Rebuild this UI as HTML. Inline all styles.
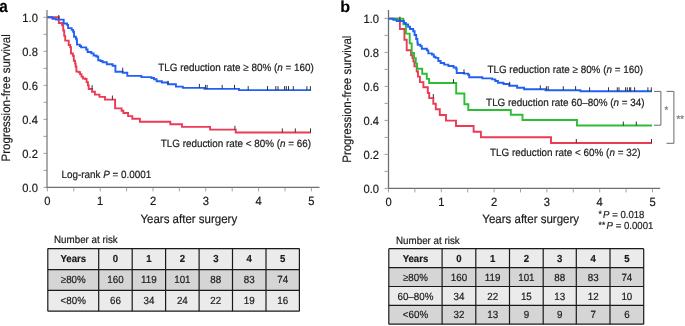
<!DOCTYPE html>
<html><head><meta charset="utf-8"><style>html,body{margin:0;padding:0;background:#fff;}
svg{display:block;will-change:transform;}
text{font-family:"Liberation Sans", sans-serif;fill:#1a1a1a;text-rendering:geometricPrecision;stroke:#1a1a1a;stroke-width:0.18px;}
.pl{font-size:17px;font-weight:bold;fill:#000;}
.tk{font-size:11.2px;}
.al{font-size:11.5px;}
.lb{font-size:9.9px;}
.sm{font-size:9.6px;}
.st{font-size:9.5px;fill:#808080;stroke:#808080;stroke-width:0.3px;}
.tb{font-size:9.8px;}
.tbb{font-size:9.6px;font-weight:bold;}
</style></head><body>
<svg width="685" height="326" viewBox="0 0 685 326">
<rect width="685" height="326" fill="#fff"/>
<text transform="translate(-0.8,12) scale(0.9,1)" class="pl">a</text>
<text transform="translate(340.2,12) scale(0.95,0.93)" class="pl">b</text>
<line x1="47.0" y1="10" x2="47.0" y2="187.4" stroke="#a2a2a2" stroke-width="1.8"/>
<line x1="46.1" y1="187.4" x2="319.5" y2="187.4" stroke="#6f6f6f" stroke-width="1.3"/>
<line x1="43.4" y1="187.40" x2="47.4" y2="187.40" stroke="#8a8a8a" stroke-width="0.8"/>
<line x1="43.4" y1="170.39" x2="47.4" y2="170.39" stroke="#8a8a8a" stroke-width="0.8"/>
<line x1="43.4" y1="153.38" x2="47.4" y2="153.38" stroke="#8a8a8a" stroke-width="0.8"/>
<line x1="43.4" y1="136.37" x2="47.4" y2="136.37" stroke="#8a8a8a" stroke-width="0.8"/>
<line x1="43.4" y1="119.36" x2="47.4" y2="119.36" stroke="#8a8a8a" stroke-width="0.8"/>
<line x1="43.4" y1="102.35" x2="47.4" y2="102.35" stroke="#8a8a8a" stroke-width="0.8"/>
<line x1="43.4" y1="85.34" x2="47.4" y2="85.34" stroke="#8a8a8a" stroke-width="0.8"/>
<line x1="43.4" y1="68.33" x2="47.4" y2="68.33" stroke="#8a8a8a" stroke-width="0.8"/>
<line x1="43.4" y1="51.32" x2="47.4" y2="51.32" stroke="#8a8a8a" stroke-width="0.8"/>
<line x1="43.4" y1="34.31" x2="47.4" y2="34.31" stroke="#8a8a8a" stroke-width="0.8"/>
<line x1="43.4" y1="17.30" x2="47.4" y2="17.30" stroke="#8a8a8a" stroke-width="0.8"/>
<text transform="translate(37.90,191.60) scale(1.0,1.06)" text-anchor="end" class="tk">0.0</text>
<text transform="translate(37.90,157.58) scale(1.0,1.06)" text-anchor="end" class="tk">0.2</text>
<text transform="translate(37.90,123.56) scale(1.0,1.06)" text-anchor="end" class="tk">0.4</text>
<text transform="translate(37.90,89.54) scale(1.0,1.06)" text-anchor="end" class="tk">0.6</text>
<text transform="translate(37.90,55.52) scale(1.0,1.06)" text-anchor="end" class="tk">0.8</text>
<text transform="translate(37.90,21.50) scale(1.0,1.06)" text-anchor="end" class="tk">1.0</text>
<line x1="47.40" y1="187.4" x2="47.40" y2="191.4" stroke="#8a8a8a" stroke-width="0.8"/>
<line x1="73.80" y1="187.4" x2="73.80" y2="191.4" stroke="#8a8a8a" stroke-width="0.8"/>
<line x1="100.20" y1="187.4" x2="100.20" y2="191.4" stroke="#8a8a8a" stroke-width="0.8"/>
<line x1="126.60" y1="187.4" x2="126.60" y2="191.4" stroke="#8a8a8a" stroke-width="0.8"/>
<line x1="153.00" y1="187.4" x2="153.00" y2="191.4" stroke="#8a8a8a" stroke-width="0.8"/>
<line x1="179.40" y1="187.4" x2="179.40" y2="191.4" stroke="#8a8a8a" stroke-width="0.8"/>
<line x1="205.80" y1="187.4" x2="205.80" y2="191.4" stroke="#8a8a8a" stroke-width="0.8"/>
<line x1="232.20" y1="187.4" x2="232.20" y2="191.4" stroke="#8a8a8a" stroke-width="0.8"/>
<line x1="258.60" y1="187.4" x2="258.60" y2="191.4" stroke="#8a8a8a" stroke-width="0.8"/>
<line x1="285.00" y1="187.4" x2="285.00" y2="191.4" stroke="#8a8a8a" stroke-width="0.8"/>
<line x1="311.40" y1="187.4" x2="311.40" y2="191.4" stroke="#8a8a8a" stroke-width="0.8"/>
<text transform="translate(47.40,204.90) scale(1.0,1.06)" text-anchor="middle" class="tk">0</text>
<text transform="translate(100.20,204.90) scale(1.0,1.06)" text-anchor="middle" class="tk">1</text>
<text transform="translate(153.00,204.90) scale(1.0,1.06)" text-anchor="middle" class="tk">2</text>
<text transform="translate(205.80,204.90) scale(1.0,1.06)" text-anchor="middle" class="tk">3</text>
<text transform="translate(258.60,204.90) scale(1.0,1.06)" text-anchor="middle" class="tk">4</text>
<text transform="translate(311.40,204.90) scale(1.0,1.06)" text-anchor="middle" class="tk">5</text>
<path d="M388.5,10 V188.4 H660.2" fill="none" stroke="#6f6f6f" stroke-width="1.3"/>
<line x1="384.5" y1="188.40" x2="388.5" y2="188.40" stroke="#8a8a8a" stroke-width="0.8"/>
<line x1="384.5" y1="171.40" x2="388.5" y2="171.40" stroke="#8a8a8a" stroke-width="0.8"/>
<line x1="384.5" y1="154.40" x2="388.5" y2="154.40" stroke="#8a8a8a" stroke-width="0.8"/>
<line x1="384.5" y1="137.40" x2="388.5" y2="137.40" stroke="#8a8a8a" stroke-width="0.8"/>
<line x1="384.5" y1="120.40" x2="388.5" y2="120.40" stroke="#8a8a8a" stroke-width="0.8"/>
<line x1="384.5" y1="103.40" x2="388.5" y2="103.40" stroke="#8a8a8a" stroke-width="0.8"/>
<line x1="384.5" y1="86.40" x2="388.5" y2="86.40" stroke="#8a8a8a" stroke-width="0.8"/>
<line x1="384.5" y1="69.40" x2="388.5" y2="69.40" stroke="#8a8a8a" stroke-width="0.8"/>
<line x1="384.5" y1="52.40" x2="388.5" y2="52.40" stroke="#8a8a8a" stroke-width="0.8"/>
<line x1="384.5" y1="35.40" x2="388.5" y2="35.40" stroke="#8a8a8a" stroke-width="0.8"/>
<line x1="384.5" y1="18.40" x2="388.5" y2="18.40" stroke="#8a8a8a" stroke-width="0.8"/>
<text transform="translate(379.00,192.60) scale(1.0,1.06)" text-anchor="end" class="tk">0.0</text>
<text transform="translate(379.00,158.60) scale(1.0,1.06)" text-anchor="end" class="tk">0.2</text>
<text transform="translate(379.00,124.60) scale(1.0,1.06)" text-anchor="end" class="tk">0.4</text>
<text transform="translate(379.00,90.60) scale(1.0,1.06)" text-anchor="end" class="tk">0.6</text>
<text transform="translate(379.00,56.60) scale(1.0,1.06)" text-anchor="end" class="tk">0.8</text>
<text transform="translate(379.00,22.60) scale(1.0,1.06)" text-anchor="end" class="tk">1.0</text>
<line x1="388.50" y1="188.4" x2="388.50" y2="192.4" stroke="#8a8a8a" stroke-width="0.8"/>
<line x1="414.90" y1="188.4" x2="414.90" y2="192.4" stroke="#8a8a8a" stroke-width="0.8"/>
<line x1="441.30" y1="188.4" x2="441.30" y2="192.4" stroke="#8a8a8a" stroke-width="0.8"/>
<line x1="467.70" y1="188.4" x2="467.70" y2="192.4" stroke="#8a8a8a" stroke-width="0.8"/>
<line x1="494.10" y1="188.4" x2="494.10" y2="192.4" stroke="#8a8a8a" stroke-width="0.8"/>
<line x1="520.50" y1="188.4" x2="520.50" y2="192.4" stroke="#8a8a8a" stroke-width="0.8"/>
<line x1="546.90" y1="188.4" x2="546.90" y2="192.4" stroke="#8a8a8a" stroke-width="0.8"/>
<line x1="573.30" y1="188.4" x2="573.30" y2="192.4" stroke="#8a8a8a" stroke-width="0.8"/>
<line x1="599.70" y1="188.4" x2="599.70" y2="192.4" stroke="#8a8a8a" stroke-width="0.8"/>
<line x1="626.10" y1="188.4" x2="626.10" y2="192.4" stroke="#8a8a8a" stroke-width="0.8"/>
<line x1="652.50" y1="188.4" x2="652.50" y2="192.4" stroke="#8a8a8a" stroke-width="0.8"/>
<text transform="translate(388.50,205.90) scale(1.0,1.06)" text-anchor="middle" class="tk">0</text>
<text transform="translate(441.30,205.90) scale(1.0,1.06)" text-anchor="middle" class="tk">1</text>
<text transform="translate(494.10,205.90) scale(1.0,1.06)" text-anchor="middle" class="tk">2</text>
<text transform="translate(546.90,205.90) scale(1.0,1.06)" text-anchor="middle" class="tk">3</text>
<text transform="translate(599.70,205.90) scale(1.0,1.06)" text-anchor="middle" class="tk">4</text>
<text transform="translate(652.50,205.90) scale(1.0,1.06)" text-anchor="middle" class="tk">5</text>
<text transform="translate(9.50,97.80) rotate(-90) scale(1.0,1.06)" text-anchor="middle" class="al">Progression-free survival</text>
<text transform="translate(350.50,99.20) rotate(-90) scale(1.0,1.06)" text-anchor="middle" class="al">Progression-free survival</text>
<text transform="translate(188.80,222.80) scale(1.0,1.06)" text-anchor="middle" class="al">Years after surgery</text>
<text transform="translate(530.70,222.80) scale(1.0,1.06)" text-anchor="middle" class="al">Years after surgery</text>
<path d="M47.4,17.3 H58.8 V23 H62.1 V25.3 H63.2 V30.5 H64.2 V35.9 H65.2 V40.6 H68.7 V45 H70.2 V47.2 H71 V53.5 H72.9 V55.8 H73.8 V60.8 H75.1 V63.5 H75.6 V66.5 H76.4 V71.6 H78.7 V72.2 H80.1 V74.3 H81.5 V76.6 H82.9 V78.5 H85.2 V79 H86.6 V82.1 H87.9 V85.3 H88.7 V89 H92.1 V91.8 H94.9 V94.6 H99.5 V96.9 H105 V99.6 H115.1 V108.4 H121.6 V110.7 H123.4 V113 H128.1 V116.1 H132.3 V118.8 H139.9 V121.7 H170.3 V124.3 H182 V126.9 H210.1 V129.6 H235.7 V132.5 H311" fill="none" stroke="#ec3a55" stroke-width="1.9"/>
<path d="M47.4,17.3 H52.4 V18.8 H56 V19.6 H63.7 V23.5 H67.1 V24.9 H68.1 V28.1 H71.7 V29.9 H73.1 V31.8 H74 V36.8 H75.9 V38.7 H76.8 V40.8 H77 V44.6 H79.8 V46 H81.1 V47.4 H86.2 V49.5 H87.6 V52 H91.3 V53.4 H93.6 V55.5 H96.3 V56.5 H98.2 V60.2 H100.5 V61 H102.6 V62.3 H106.8 V64.3 H112.6 V65.8 H115.4 V71.8 H122.7 V72.7 H127.3 V75.9 H141.4 V77.1 H151.4 V78 H154 V79.2 H156.6 V81.2 H161.9 V82.5 H168 V84.3 H175.9 V86.6 H182.9 V87.9 H204.4 V88.9 H239 V90.1 H311" fill="none" stroke="#2260f4" stroke-width="1.9"/>
<path d="M388.3,18.6 H399.9 V29 H404.4 V39.8 H406.7 V50.3 H411 V55.3 H412.5 V58 H413.4 V61.4 H414.4 V66.4 H416.7 V71.5 H418 V76.6 H419.9 V82.1 H423.4 V87.3 H427.8 V93 H429.2 V98.1 H433.3 V103.7 H435.8 V109.2 H439.8 V115 H446 V120.6 H456 V126 H473.6 V131.7 H480.9 V137.3 H551 V143 H652" fill="none" stroke="#ec3a55" stroke-width="1.9"/>
<path d="M388.3,18.6 H403.4 V24.4 H405.9 V33.6 H409.7 V43.4 H411.7 V53 H414 V58.1 H415.8 V63.6 H417.1 V68.7 H422.2 V73.8 H426.8 V78.9 H429.1 V83 H456.2 V93.5 H464.4 V104.3 H468.3 V110 H510.8 V114.8 H522.5 V120 H577 V125.5 H652" fill="none" stroke="#2bbd35" stroke-width="1.9"/>
<path d="M388.3,18.6 H393.4 V19.8 H396.7 V21 H404 V23 H405.9 V24.4 H408.1 V26.7 H410 V29 H413.2 V31.3 H414.6 V35 H416.2 V39 H417.4 V42.5 H417.7 V44.7 H420.4 V46.1 H421.8 V48.8 H426.9 V50.4 H428.3 V53.4 H431.9 V54.5 H433.8 V56.8 H435.6 V57.9 H438.3 V61 H440.6 V63 H444.2 V64.6 H448.4 V66 H453.6 V67.5 H456.2 V69 H456.7 V73 H464 V73.6 H468.2 V74.7 H469.2 V77.3 H482.3 V78.4 H492.2 V79.4 H495.3 V81 H497.9 V82.8 H503.5 V84 H509.2 V85.7 H517.1 V87.8 H524.1 V89.2 H545.5 V90.2 H580.4 V91.3 H652" fill="none" stroke="#2260f4" stroke-width="1.9"/>
<line x1="58.8" y1="15" x2="58.8" y2="19" stroke="#333333" stroke-width="1"/>
<line x1="122.7" y1="67.7" x2="122.7" y2="71.8" stroke="#333333" stroke-width="1"/>
<line x1="168" y1="80.8" x2="168" y2="84.3" stroke="#333333" stroke-width="1"/>
<line x1="199.4" y1="83.9" x2="199.4" y2="87.9" stroke="#333333" stroke-width="1"/>
<line x1="205.6" y1="84.9" x2="205.6" y2="88.9" stroke="#333333" stroke-width="1"/><line x1="207.1" y1="84.9" x2="207.1" y2="88.9" stroke="#333333" stroke-width="1"/>
<line x1="222.2" y1="84.9" x2="222.2" y2="88.9" stroke="#333333" stroke-width="1"/><line x1="234.5" y1="84.9" x2="234.5" y2="88.9" stroke="#333333" stroke-width="1"/>
<line x1="248.2" y1="86.1" x2="248.2" y2="90.1" stroke="#333333" stroke-width="1"/><line x1="267.5" y1="86.1" x2="267.5" y2="90.1" stroke="#333333" stroke-width="1"/><line x1="275.8" y1="86.1" x2="275.8" y2="90.1" stroke="#333333" stroke-width="1"/><line x1="278" y1="86.1" x2="278" y2="90.1" stroke="#333333" stroke-width="1"/><line x1="284.6" y1="86.1" x2="284.6" y2="90.1" stroke="#333333" stroke-width="1"/><line x1="286.3" y1="86.1" x2="286.3" y2="90.1" stroke="#333333" stroke-width="1"/><line x1="288.5" y1="86.1" x2="288.5" y2="90.1" stroke="#333333" stroke-width="1"/><line x1="293.3" y1="86.1" x2="293.3" y2="90.1" stroke="#333333" stroke-width="1"/><line x1="306.9" y1="86.1" x2="306.9" y2="90.1" stroke="#333333" stroke-width="1"/><line x1="310.4" y1="86.1" x2="310.4" y2="90.1" stroke="#333333" stroke-width="1"/>
<line x1="92.1" y1="85.2" x2="92.1" y2="89.2" stroke="#333333" stroke-width="1"/>
<line x1="112.4" y1="95.5" x2="112.4" y2="99.6" stroke="#333333" stroke-width="1"/>
<line x1="234.9" y1="125.8" x2="234.9" y2="129.6" stroke="#333333" stroke-width="1"/>
<line x1="282.3" y1="128.4" x2="282.3" y2="132.4" stroke="#333333" stroke-width="1"/><line x1="295.3" y1="128.4" x2="295.3" y2="132.4" stroke="#333333" stroke-width="1"/><line x1="310.5" y1="128.4" x2="310.5" y2="132.4" stroke="#333333" stroke-width="1"/>
<line x1="399.9" y1="16.6" x2="399.9" y2="20.7" stroke="#333333" stroke-width="1"/>
<line x1="464" y1="69.3" x2="464" y2="73.3" stroke="#333333" stroke-width="1"/>
<line x1="509.7" y1="81.8" x2="509.7" y2="85.7" stroke="#333333" stroke-width="1"/>
<line x1="540.3" y1="85.3" x2="540.3" y2="89.2" stroke="#333333" stroke-width="1"/>
<line x1="546.4" y1="86.2" x2="546.4" y2="90.2" stroke="#333333" stroke-width="1"/><line x1="548.2" y1="86.2" x2="548.2" y2="90.2" stroke="#333333" stroke-width="1"/><line x1="563.3" y1="86.2" x2="563.3" y2="90.2" stroke="#333333" stroke-width="1"/><line x1="575.6" y1="86.2" x2="575.6" y2="90.2" stroke="#333333" stroke-width="1"/>
<line x1="589.6" y1="87.3" x2="589.6" y2="91.3" stroke="#333333" stroke-width="1"/><line x1="608.5" y1="87.3" x2="608.5" y2="91.3" stroke="#333333" stroke-width="1"/><line x1="617.3" y1="87.3" x2="617.3" y2="91.3" stroke="#333333" stroke-width="1"/><line x1="619" y1="87.3" x2="619" y2="91.3" stroke="#333333" stroke-width="1"/><line x1="625.6" y1="87.3" x2="625.6" y2="91.3" stroke="#333333" stroke-width="1"/><line x1="627.3" y1="87.3" x2="627.3" y2="91.3" stroke="#333333" stroke-width="1"/><line x1="629.6" y1="87.3" x2="629.6" y2="91.3" stroke="#333333" stroke-width="1"/><line x1="630.7" y1="87.3" x2="630.7" y2="91.3" stroke="#333333" stroke-width="1"/><line x1="634.6" y1="87.3" x2="634.6" y2="91.3" stroke="#333333" stroke-width="1"/><line x1="647.9" y1="87.3" x2="647.9" y2="91.3" stroke="#333333" stroke-width="1"/><line x1="651.3" y1="87.3" x2="651.3" y2="91.3" stroke="#333333" stroke-width="1"/>
<line x1="453.5" y1="79.2" x2="453.5" y2="83" stroke="#333333" stroke-width="1"/>
<line x1="623.3" y1="121.5" x2="623.3" y2="125.5" stroke="#333333" stroke-width="1"/><line x1="636.3" y1="121.5" x2="636.3" y2="125.5" stroke="#333333" stroke-width="1"/>
<line x1="433.3" y1="94" x2="433.3" y2="98.1" stroke="#333333" stroke-width="1"/>
<line x1="576.3" y1="139" x2="576.3" y2="143" stroke="#333333" stroke-width="1"/><line x1="651.5" y1="139" x2="651.5" y2="143" stroke="#333333" stroke-width="1"/>
<text transform="translate(158.20,70.60) scale(1.0,1.06)" class="lb">TLG reduction rate ≥ 80% (<tspan font-style="italic">n</tspan> = 160)</text>
<text transform="translate(160.70,146.70) scale(1.0,1.06)" class="lb">TLG reduction rate &lt; 80% (<tspan font-style="italic">n</tspan> = 66)</text>
<text transform="translate(61.50,177.90) scale(1.0,1.06)" class="lb">Log-rank <tspan font-style="italic">P</tspan> = 0.0001</text>
<text transform="translate(487.40,72.70) scale(1.0,1.06)" class="lb">TLG reduction rate ≥ 80% (<tspan font-style="italic">n</tspan> = 160)</text>
<text transform="translate(486.10,105.70) scale(1.0,1.06)" class="lb">TLG reduction rate 60–80% (<tspan font-style="italic">n</tspan> = 34)</text>
<text transform="translate(490.00,156.10) scale(1.0,1.06)" class="lb">TLG reduction rate &lt; 60% (<tspan font-style="italic">n</tspan> = 32)</text>
<text transform="translate(598.60,217.60) scale(1.0,1.06)" class="sm"><tspan font-size="8.5px" dy="-0.6">*</tspan><tspan font-style="italic" dx="1.2" dy="0.6">P</tspan> = 0.018</text>
<text transform="translate(598.60,228.60) scale(1.0,1.06)" class="sm"><tspan font-size="8.5px" dy="-0.6">**</tspan><tspan font-style="italic" dx="1.4" dy="0.6">P</tspan> = 0.0001</text>
<path d="M654,91.4 H660.9 V125.2 H654" fill="none" stroke="#6a6a6a" stroke-width="1"/>
<path d="M666.5,91.4 H673.9 V143.3 H666.5" fill="none" stroke="#6a6a6a" stroke-width="1"/>
<text x="664.6" y="113.2" class="st">*</text>
<text x="676.6" y="121.6" class="st">**</text>
<text transform="translate(54.00,243.30) scale(1.0,1.06)" class="tb">Number at risk</text>
<rect x="47.8" y="248.6" width="251.59999999999997" height="21.00000000000003" fill="#ebebeb"/>
<rect x="47.8" y="269.6" width="251.59999999999997" height="20.799999999999955" fill="#d5d5d5"/>
<rect x="47.8" y="290.4" width="251.59999999999997" height="20.80000000000001" fill="#ebebeb"/>
<text transform="translate(73.25,262.30) scale(1.0,1.06)" text-anchor="middle" class="tbb">Years</text>
<text transform="translate(115.45,262.30) scale(1.0,1.06)" text-anchor="middle" class="tbb">0</text>
<text transform="translate(148.90,262.30) scale(1.0,1.06)" text-anchor="middle" class="tbb">1</text>
<text transform="translate(182.35,262.30) scale(1.0,1.06)" text-anchor="middle" class="tbb">2</text>
<text transform="translate(215.80,262.30) scale(1.0,1.06)" text-anchor="middle" class="tbb">3</text>
<text transform="translate(249.25,262.30) scale(1.0,1.06)" text-anchor="middle" class="tbb">4</text>
<text transform="translate(282.70,262.30) scale(1.0,1.06)" text-anchor="middle" class="tbb">5</text>
<text transform="translate(73.25,283.20) scale(1.0,1.06)" text-anchor="middle" class="tb">≥80%</text>
<text transform="translate(115.45,283.20) scale(1.0,1.06)" text-anchor="middle" class="tb">160</text>
<text transform="translate(148.90,283.20) scale(1.0,1.06)" text-anchor="middle" class="tb">119</text>
<text transform="translate(182.35,283.20) scale(1.0,1.06)" text-anchor="middle" class="tb">101</text>
<text transform="translate(215.80,283.20) scale(1.0,1.06)" text-anchor="middle" class="tb">88</text>
<text transform="translate(249.25,283.20) scale(1.0,1.06)" text-anchor="middle" class="tb">83</text>
<text transform="translate(282.70,283.20) scale(1.0,1.06)" text-anchor="middle" class="tb">74</text>
<text transform="translate(73.25,304.00) scale(1.0,1.06)" text-anchor="middle" class="tb">&lt;80%</text>
<text transform="translate(115.45,304.00) scale(1.0,1.06)" text-anchor="middle" class="tb">66</text>
<text transform="translate(148.90,304.00) scale(1.0,1.06)" text-anchor="middle" class="tb">34</text>
<text transform="translate(182.35,304.00) scale(1.0,1.06)" text-anchor="middle" class="tb">24</text>
<text transform="translate(215.80,304.00) scale(1.0,1.06)" text-anchor="middle" class="tb">22</text>
<text transform="translate(249.25,304.00) scale(1.0,1.06)" text-anchor="middle" class="tb">19</text>
<text transform="translate(282.70,304.00) scale(1.0,1.06)" text-anchor="middle" class="tb">16</text>
<line x1="47.8" y1="248.6" x2="299.4" y2="248.6" stroke="#1a1a1a" stroke-width="1.2"/>
<line x1="47.8" y1="269.6" x2="299.4" y2="269.6" stroke="#1a1a1a" stroke-width="1.2"/>
<line x1="47.8" y1="290.4" x2="299.4" y2="290.4" stroke="#1a1a1a" stroke-width="1.2"/>
<line x1="47.8" y1="311.2" x2="299.4" y2="311.2" stroke="#1a1a1a" stroke-width="1.2"/>
<line x1="47.8" y1="248.6" x2="47.8" y2="311.2" stroke="#1a1a1a" stroke-width="1.2"/>
<line x1="98.7" y1="248.6" x2="98.7" y2="311.2" stroke="#1a1a1a" stroke-width="1.2"/>
<line x1="132.2" y1="248.6" x2="132.2" y2="311.2" stroke="#1a1a1a" stroke-width="1.2"/>
<line x1="165.6" y1="248.6" x2="165.6" y2="311.2" stroke="#1a1a1a" stroke-width="1.2"/>
<line x1="199.1" y1="248.6" x2="199.1" y2="311.2" stroke="#1a1a1a" stroke-width="1.2"/>
<line x1="232.5" y1="248.6" x2="232.5" y2="311.2" stroke="#1a1a1a" stroke-width="1.2"/>
<line x1="266" y1="248.6" x2="266" y2="311.2" stroke="#1a1a1a" stroke-width="1.2"/>
<line x1="299.4" y1="248.6" x2="299.4" y2="311.2" stroke="#1a1a1a" stroke-width="1.2"/>
<text transform="translate(396.00,243.80) scale(1.0,1.06)" class="tb">Number at risk</text>
<rect x="388.8" y="248.7" width="254.90000000000003" height="18.900000000000034" fill="#ebebeb"/>
<rect x="388.8" y="267.6" width="254.90000000000003" height="18.899999999999977" fill="#d5d5d5"/>
<rect x="388.8" y="286.5" width="254.90000000000003" height="18.899999999999977" fill="#ebebeb"/>
<rect x="388.8" y="305.4" width="254.90000000000003" height="18.80000000000001" fill="#d5d5d5"/>
<text transform="translate(415.45,261.75) scale(1.0,1.06)" text-anchor="middle" class="tbb">Years</text>
<text transform="translate(458.95,261.75) scale(1.0,1.06)" text-anchor="middle" class="tbb">0</text>
<text transform="translate(492.65,261.75) scale(1.0,1.06)" text-anchor="middle" class="tbb">1</text>
<text transform="translate(526.35,261.75) scale(1.0,1.06)" text-anchor="middle" class="tbb">2</text>
<text transform="translate(559.75,261.75) scale(1.0,1.06)" text-anchor="middle" class="tbb">3</text>
<text transform="translate(593.15,261.75) scale(1.0,1.06)" text-anchor="middle" class="tbb">4</text>
<text transform="translate(626.85,261.75) scale(1.0,1.06)" text-anchor="middle" class="tbb">5</text>
<text transform="translate(415.45,280.65) scale(1.0,1.06)" text-anchor="middle" class="tb">≥80%</text>
<text transform="translate(458.95,280.65) scale(1.0,1.06)" text-anchor="middle" class="tb">160</text>
<text transform="translate(492.65,280.65) scale(1.0,1.06)" text-anchor="middle" class="tb">119</text>
<text transform="translate(526.35,280.65) scale(1.0,1.06)" text-anchor="middle" class="tb">101</text>
<text transform="translate(559.75,280.65) scale(1.0,1.06)" text-anchor="middle" class="tb">88</text>
<text transform="translate(593.15,280.65) scale(1.0,1.06)" text-anchor="middle" class="tb">83</text>
<text transform="translate(626.85,280.65) scale(1.0,1.06)" text-anchor="middle" class="tb">74</text>
<text transform="translate(415.45,299.55) scale(1.0,1.06)" text-anchor="middle" class="tb">60–80%</text>
<text transform="translate(458.95,299.55) scale(1.0,1.06)" text-anchor="middle" class="tb">34</text>
<text transform="translate(492.65,299.55) scale(1.0,1.06)" text-anchor="middle" class="tb">22</text>
<text transform="translate(526.35,299.55) scale(1.0,1.06)" text-anchor="middle" class="tb">15</text>
<text transform="translate(559.75,299.55) scale(1.0,1.06)" text-anchor="middle" class="tb">13</text>
<text transform="translate(593.15,299.55) scale(1.0,1.06)" text-anchor="middle" class="tb">12</text>
<text transform="translate(626.85,299.55) scale(1.0,1.06)" text-anchor="middle" class="tb">10</text>
<text transform="translate(415.45,318.40) scale(1.0,1.06)" text-anchor="middle" class="tb">&lt;60%</text>
<text transform="translate(458.95,318.40) scale(1.0,1.06)" text-anchor="middle" class="tb">32</text>
<text transform="translate(492.65,318.40) scale(1.0,1.06)" text-anchor="middle" class="tb">13</text>
<text transform="translate(526.35,318.40) scale(1.0,1.06)" text-anchor="middle" class="tb">9</text>
<text transform="translate(559.75,318.40) scale(1.0,1.06)" text-anchor="middle" class="tb">9</text>
<text transform="translate(593.15,318.40) scale(1.0,1.06)" text-anchor="middle" class="tb">7</text>
<text transform="translate(626.85,318.40) scale(1.0,1.06)" text-anchor="middle" class="tb">6</text>
<line x1="388.8" y1="248.7" x2="643.7" y2="248.7" stroke="#1a1a1a" stroke-width="1.2"/>
<line x1="388.8" y1="267.6" x2="643.7" y2="267.6" stroke="#1a1a1a" stroke-width="1.2"/>
<line x1="388.8" y1="286.5" x2="643.7" y2="286.5" stroke="#1a1a1a" stroke-width="1.2"/>
<line x1="388.8" y1="305.4" x2="643.7" y2="305.4" stroke="#1a1a1a" stroke-width="1.2"/>
<line x1="388.8" y1="324.2" x2="643.7" y2="324.2" stroke="#1a1a1a" stroke-width="1.2"/>
<line x1="388.8" y1="248.7" x2="388.8" y2="324.2" stroke="#1a1a1a" stroke-width="1.2"/>
<line x1="442.1" y1="248.7" x2="442.1" y2="324.2" stroke="#1a1a1a" stroke-width="1.2"/>
<line x1="475.8" y1="248.7" x2="475.8" y2="324.2" stroke="#1a1a1a" stroke-width="1.2"/>
<line x1="509.5" y1="248.7" x2="509.5" y2="324.2" stroke="#1a1a1a" stroke-width="1.2"/>
<line x1="543.2" y1="248.7" x2="543.2" y2="324.2" stroke="#1a1a1a" stroke-width="1.2"/>
<line x1="576.3" y1="248.7" x2="576.3" y2="324.2" stroke="#1a1a1a" stroke-width="1.2"/>
<line x1="610" y1="248.7" x2="610" y2="324.2" stroke="#1a1a1a" stroke-width="1.2"/>
<line x1="643.7" y1="248.7" x2="643.7" y2="324.2" stroke="#1a1a1a" stroke-width="1.2"/>
</svg>
</body></html>
